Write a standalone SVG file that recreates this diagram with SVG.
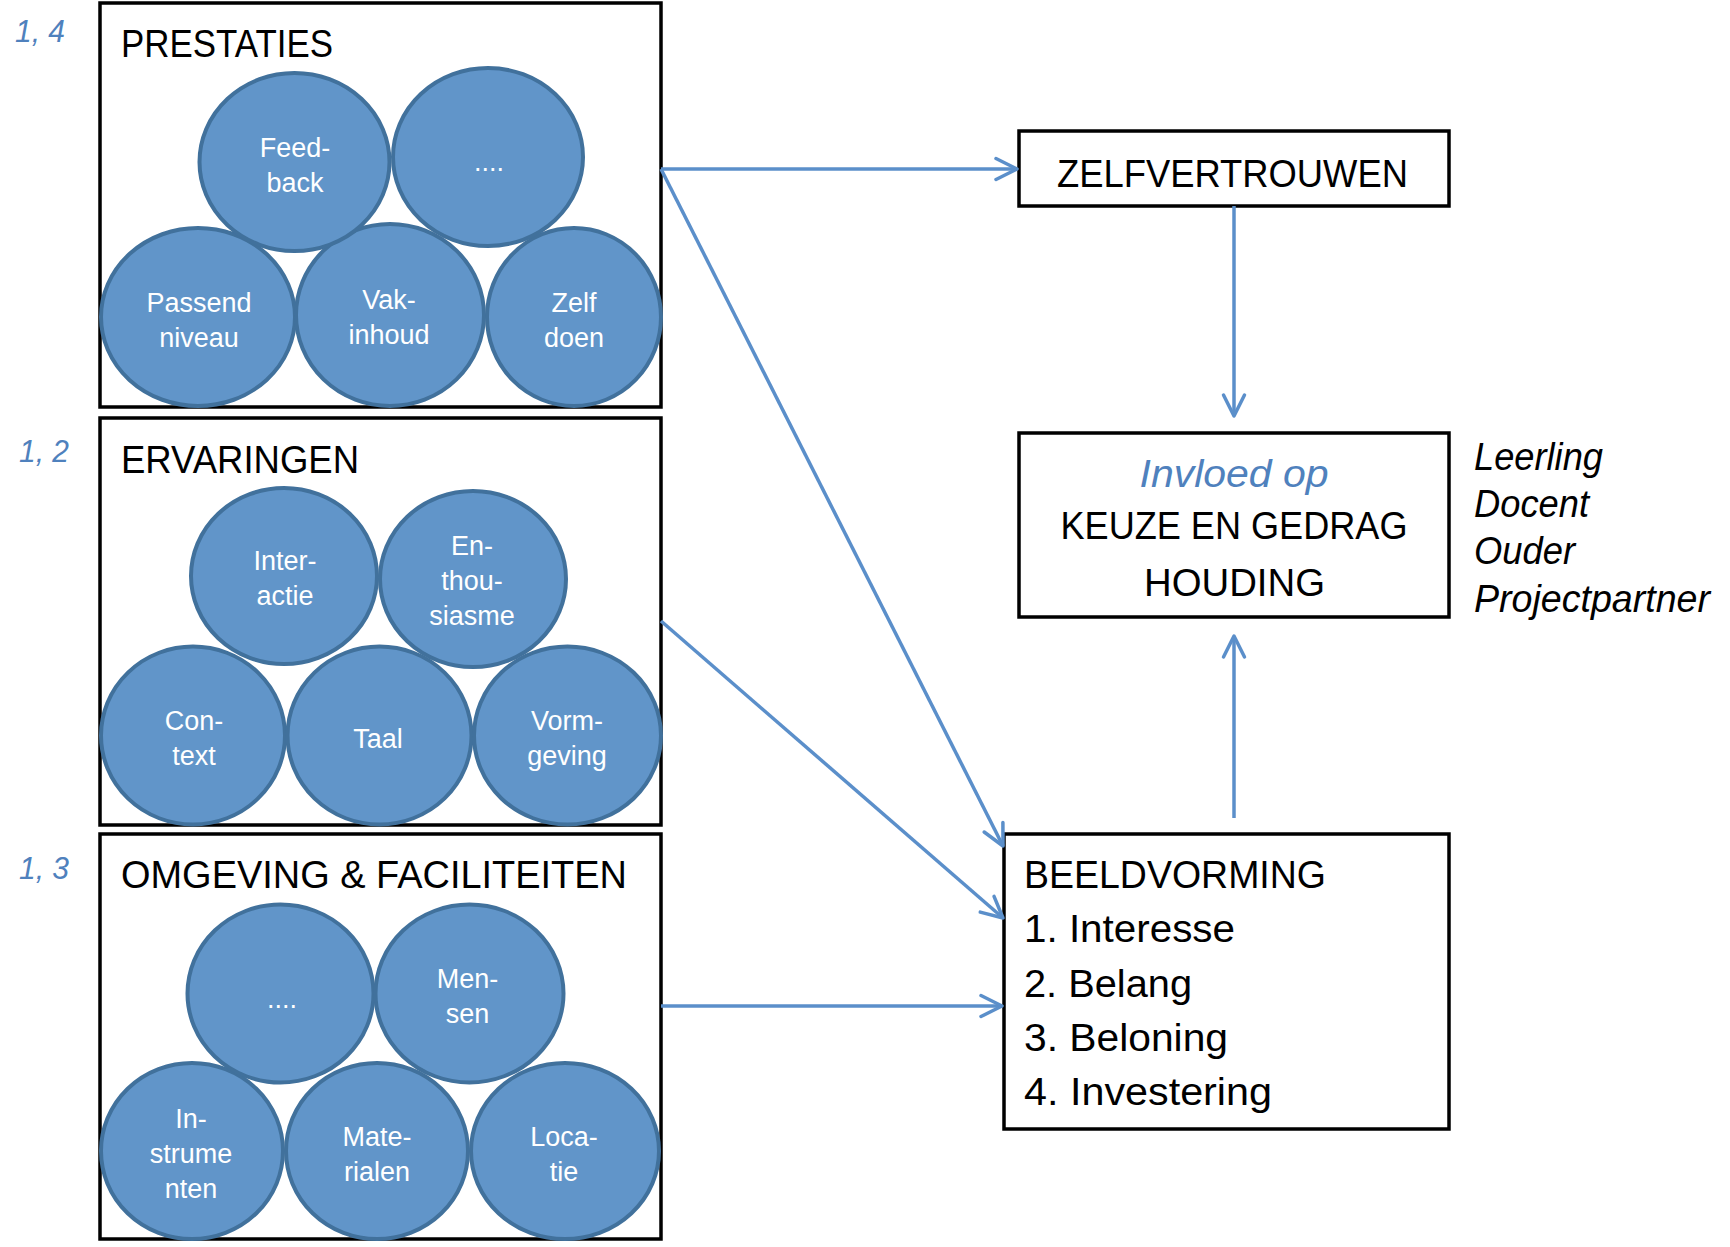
<svg xmlns="http://www.w3.org/2000/svg" width="1730" height="1247" viewBox="0 0 1730 1247">
<style>
.box{fill:#ffffff;stroke:#000000;stroke-width:3.5}
.c{fill:#6195c9;stroke:#41719c;stroke-width:4}
.ct{font-family:"Liberation Sans",Arial,sans-serif;font-size:27px;fill:#ffffff;text-anchor:middle}
.t{font-family:"Liberation Sans",Arial,sans-serif;font-size:38px;fill:#000000}
.n{font-family:"Liberation Sans",Arial,sans-serif;font-size:31px;font-style:italic;fill:#4f81bd}
.i{font-family:"Liberation Sans",Arial,sans-serif;font-size:38px;font-style:italic;fill:#000000}
.ln{fill:none;stroke:#5b8fca;stroke-width:3.5;marker-end:url(#ah)}
</style>
<defs>
<marker id="ah" markerUnits="userSpaceOnUse" markerWidth="30" markerHeight="30" viewBox="-25 -15 30 30" refX="0" refY="0" orient="auto" overflow="visible">
<path d="M -21 -10.5 L 0 0 L -21 10.5" fill="none" stroke="#5b8fca" stroke-width="3.5" stroke-linecap="round" stroke-linejoin="round"/>
</marker>
</defs>
<rect width="1730" height="1247" fill="#ffffff"/>

<g id="prestaties">
<rect class="box" x="100" y="3" width="561" height="404"/>
<text class="t" x="121" y="57" textLength="212" lengthAdjust="spacingAndGlyphs">PRESTATIES</text>
<ellipse class="c" cx="198" cy="317" rx="97" ry="89"/>
<ellipse class="c" cx="390" cy="315" rx="94" ry="91"/>
<ellipse class="c" cx="574" cy="317" rx="87" ry="89"/>
<ellipse class="c" cx="294.5" cy="162" rx="95" ry="89"/>
<ellipse class="c" cx="488" cy="157" rx="95" ry="89"/>
<text class="ct" x="295" y="157">Feed-</text>
<text class="ct" x="295" y="192">back</text>
<text class="ct" x="489" y="171">....</text>
<text class="ct" x="199" y="312">Passend</text>
<text class="ct" x="199" y="347">niveau</text>
<text class="ct" x="389" y="309">Vak-</text>
<text class="ct" x="389" y="344">inhoud</text>
<text class="ct" x="574" y="312">Zelf</text>
<text class="ct" x="574" y="347">doen</text>
</g>
<g id="label-prestaties"><text class="n" x="15" y="42" textLength="50" lengthAdjust="spacingAndGlyphs">1, 4</text></g>

<g id="ervaringen">
<rect class="box" x="100" y="418" width="561" height="407"/>
<text class="t" x="121" y="473" textLength="238" lengthAdjust="spacingAndGlyphs">ERVARINGEN</text>
<ellipse class="c" cx="193" cy="735.5" rx="92" ry="89"/>
<ellipse class="c" cx="379.5" cy="735.5" rx="92" ry="89"/>
<ellipse class="c" cx="567.5" cy="735.5" rx="93.5" ry="89"/>
<ellipse class="c" cx="284" cy="576" rx="93" ry="88"/>
<ellipse class="c" cx="473" cy="579" rx="93" ry="88"/>
<text class="ct" x="285" y="570">Inter-</text>
<text class="ct" x="285" y="605">actie</text>
<text class="ct" x="472" y="555">En-</text>
<text class="ct" x="472" y="590">thou-</text>
<text class="ct" x="472" y="625">siasme</text>
<text class="ct" x="194" y="730">Con-</text>
<text class="ct" x="194" y="765">text</text>
<text class="ct" x="378" y="748">Taal</text>
<text class="ct" x="567" y="730">Vorm-</text>
<text class="ct" x="567" y="765">geving</text>
</g>
<g id="label-ervaringen"><text class="n" x="19" y="462" textLength="50" lengthAdjust="spacingAndGlyphs">1, 2</text></g>

<g id="omgeving">
<rect class="box" x="100" y="834" width="561" height="405"/>
<text class="t" x="121" y="888" textLength="506" lengthAdjust="spacingAndGlyphs">OMGEVING &amp; FACILITEITEN</text>
<ellipse class="c" cx="192" cy="1151" rx="91" ry="88"/>
<ellipse class="c" cx="377" cy="1151" rx="91" ry="88"/>
<ellipse class="c" cx="565" cy="1151" rx="94" ry="88"/>
<ellipse class="c" cx="280.5" cy="993.5" rx="93" ry="89"/>
<ellipse class="c" cx="469.5" cy="993.5" rx="94" ry="89"/>
<text class="ct" x="282" y="1008">....</text>
<text class="ct" x="467.5" y="988">Men-</text>
<text class="ct" x="467.5" y="1023">sen</text>
<text class="ct" x="191" y="1128">In-</text>
<text class="ct" x="191" y="1163">strume</text>
<text class="ct" x="191" y="1198">nten</text>
<text class="ct" x="377" y="1146">Mate-</text>
<text class="ct" x="377" y="1181">rialen</text>
<text class="ct" x="564" y="1146">Loca-</text>
<text class="ct" x="564" y="1181">tie</text>
</g>
<g id="label-omgeving"><text class="n" x="19" y="879" textLength="50" lengthAdjust="spacingAndGlyphs">1, 3</text></g>

<g id="zelfvertrouwen">
<rect class="box" x="1019" y="131" width="430" height="75"/>
<text class="t" x="1057" y="187" textLength="351" lengthAdjust="spacingAndGlyphs">ZELFVERTROUWEN</text>
</g>

<g id="keuze">
<rect class="box" x="1019" y="433" width="430" height="184"/>
<text x="1234" y="487" text-anchor="middle" textLength="189" lengthAdjust="spacingAndGlyphs" style="font-family:'Liberation Sans',Arial,sans-serif;font-size:38px;font-style:italic;fill:#4f81bd">Invloed op</text>
<text class="t" x="1234" y="539" text-anchor="middle" textLength="347" lengthAdjust="spacingAndGlyphs">KEUZE EN GEDRAG</text>
<text class="t" x="1234.5" y="596" text-anchor="middle" textLength="181" lengthAdjust="spacingAndGlyphs">HOUDING</text>
</g>

<g id="actoren">
<text class="i" x="1474" y="470" textLength="129" lengthAdjust="spacingAndGlyphs">Leerling</text>
<text class="i" x="1474" y="517" textLength="115" lengthAdjust="spacingAndGlyphs">Docent</text>
<text class="i" x="1474" y="564" textLength="101" lengthAdjust="spacingAndGlyphs">Ouder</text>
<text class="i" x="1474" y="612" textLength="236" lengthAdjust="spacingAndGlyphs">Projectpartner</text>
</g>

<g id="beeldvorming">
<rect class="box" x="1004" y="834" width="445" height="295"/>
<text class="t" x="1024" y="888" textLength="302" lengthAdjust="spacingAndGlyphs">BEELDVORMING</text>
<text class="t" x="1024" y="942" textLength="211" lengthAdjust="spacingAndGlyphs">1. Interesse</text>
<text class="t" x="1024" y="997" textLength="168" lengthAdjust="spacingAndGlyphs">2. Belang</text>
<text class="t" x="1024" y="1051" textLength="204" lengthAdjust="spacingAndGlyphs">3. Beloning</text>
<text class="t" x="1024" y="1105" textLength="248" lengthAdjust="spacingAndGlyphs">4. Investering</text>
</g>

<g id="connectors">
<path class="ln" d="M 661 169 L 1017 169"/>
<path class="ln" d="M 661 169 L 1003 846"/>
<path class="ln" d="M 661 621 L 1003 918"/>
<path class="ln" d="M 661 1006 L 1002 1006"/>
<path class="ln" d="M 1234 206 L 1234 416"/>
<path class="ln" d="M 1234 818 L 1234 636"/>
</g>
</svg>
